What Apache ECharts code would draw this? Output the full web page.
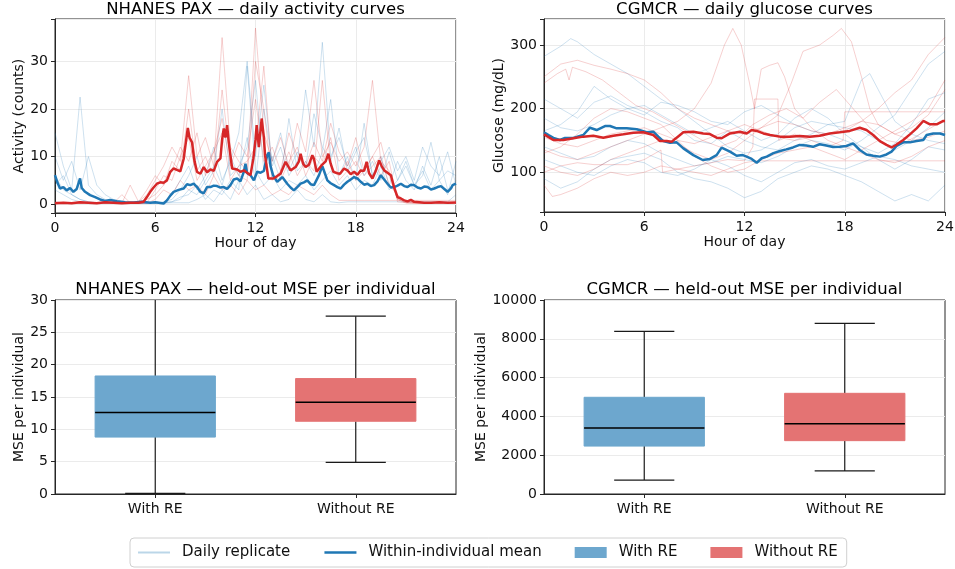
<!DOCTYPE html>
<html><head><meta charset="utf-8">
<script src="https://cdn.jsdelivr.net/npm/echarts@6/dist/echarts.min.js"></script>
<style>html,body{margin:0;padding:0;background:#fff}#c{width:955px;height:569px}</style>
</head><body><div id="c"></div><script>
// ---------- DATA ----------
const halfHours = [0,0.5,1,1.5,2,2.5,3,3.5,4,4.5,5,5.5,6,6.5,7,7.5,8,8.5,9,9.5,10,10.5,11,11.5,12,12.5,13,13.5,14,14.5,15,15.5,16,16.5,17,17.5,18,18.5,19,19.5,20,20.5,21,21.5,22,22.5,23,23.5,24];

// NHANES PAX daily replicates (individual A = blue, individual B = red), sampled every 0.5 h
const nhanesBlueRep1 = [15,8,3,22.5,4,2,1,0.5,0.3,0.2,0.3,0.2,0.5,0.3,2,5,8,3,6,12,5,9,15,30,10,25,8,12,6,9,24,12,34,10,14,8,12,6,9,5,11,5,8,4,6,13,5,7,6];
const nhanesBlueRep2 = [10,5,9,3,10,4,2,1,0.5,0.3,0.2,0.3,0.2,0.5,1,3,6,10,4,7,20,6,8,12,26,7,10,5,18,7,9,6,11,22,6,10,5,17,6,10,4,9,5,3,8,4,10,3,5];
const nhanesBlueRep3 = [3,2,1,0.5,0.3,0.2,0.3,0.2,0.3,0.2,0.3,0.2,0.3,0.2,0.3,0.3,0.3,1,2,0.5,3,1,5,2,4,1,2,0.5,1,3,1,0.5,2,0.5,0.3,0.5,0.5,0.5,0.5,0.5,0.5,0.5,0.5,0.5,0.5,0.5,0.5,0.5,2];
const nhanesBlueRep4 = [4,6,2,1,0.5,0.3,0.3,0.3,0.3,0.3,0.3,0.3,0.3,0.3,0.5,1.5,2,4,1,3,2,5,3,29,7,4,6,3,5,4,6,3,5,7,4,6,3,5,4,8,3,5,9,4,7,3,5,2,9];
const nhanesBlueRep5 = [6,3,2,1,0.5,0.3,0.2,0.3,0.2,0.3,0.2,0.3,0.2,0.3,0.5,1,3,2,5,8,4,10,6,14,5,20,9,15,7,11,8,19,12,9,16,7,11,14,6,9,12,7,10,5,12,8,6,11,4];
const nhanesRedRep1 = [0.5,0.3,0.2,0.5,0.3,0.2,0.5,0.3,0.2,4,0.5,2,5,8,12,9,27,10,14,8,35,12,9,7,37,15,9,14,8,17,11,26,10,13,9,11,8,12,26,9,7,1,0.3,0.2,0.3,0.3,0.3,0.3,0.3];
const nhanesRedRep2 = [0.2,0.2,0.3,0.2,0.2,0.3,0.2,0.2,0.3,0.2,0.5,3,6,4,9,7,20,7,10,6,24,9,6,5,30,20,5,7,11,6,9,7,26,8,6,9,5,7,10,6,9,0.5,0.3,0.3,0.2,0.3,0.2,0.3,0.2];
const nhanesRedRep3 = [0.3,0.2,0.3,0.3,0.2,0.3,0.3,0.2,0.3,0.3,0.2,0.3,3,6,5,10,14,5,8,11,15,5,8,9,12,29,6,5,9,12,6,10,8,14,5,7,9,6,8,10,4,2,0.5,0.3,0.2,0.3,0.3,0.2,0.3];
const nhanesRedRep4 = [0.2,0.2,0.2,0.2,0.2,0.2,0.2,0.2,0.2,0.2,0.2,0.2,1,3,2,5,3,4,2,6,3,4,2,5,3,4,2,3,2,4,3,2,4,2,0.8,0.8,0.8,0.8,0.8,0.8,0.8,0.8,0.8,0.8,0.8,0.8,0.8,0.8,0.8];
const nhanesRedRep5 = [0.3,0.2,0.3,0.2,0.3,0.2,0.3,0.2,2,0.3,0.5,1,2,4,7,12,9,15,6,11,18,8,13,10,22,9,12,7,15,10,8,13,9,17,11,8,14,7,10,13,6,1,0.3,0.2,0.3,0.2,0.3,0.2,0.3];

// NHANES within-individual means [hour, counts]
const nhanesBlueMean = [[0,6.1],[0.15,4.5],[0.3,3.3],[0.5,3.6],[0.7,2.9],[0.9,3.4],[1.1,2.6],[1.3,3.2],[1.5,5.4],[1.6,3.4],[1.8,2.6],[2.1,1.9],[2.4,1.5],[2.7,1.0],[3.0,0.7],[3.3,0.9],[3.7,0.6],[4.2,0.4],[4.7,0.35],[5.2,0.5],[5.7,0.3],[6.0,0.4],[6.5,0.15],[6.7,0.8],[6.9,1.8],[7.1,2.6],[7.4,3.0],[7.7,3.3],[7.9,4.2],[8.1,4.0],[8.3,4.3],[8.5,3.6],[8.7,2.6],[8.9,2.3],[9.1,3.6],[9.3,3.6],[9.5,3.9],[9.7,3.8],[9.9,3.5],[10.1,3.6],[10.3,3.2],[10.5,4.0],[10.7,5.2],[10.9,5.4],[11.1,4.8],[11.3,6.8],[11.4,8.5],[11.5,6.5],[11.7,6.1],[11.9,5.0],[12.1,6.8],[12.3,6.6],[12.5,7.0],[12.7,10.3],[12.8,10.9],[12.9,8.0],[13.05,6.1],[13.3,4.7],[13.6,5.7],[13.9,4.3],[14.1,3.5],[14.3,2.9],[14.5,3.6],[14.7,4.3],[14.9,4.6],[15.1,5.0],[15.3,4.2],[15.5,4.0],[15.8,6.1],[16.0,8.0],[16.15,6.5],[16.3,5.0],[16.5,4.4],[16.7,4.0],[16.9,3.6],[17.1,3.3],[17.3,4.1],[17.5,4.7],[17.7,5.2],[17.9,5.7],[18.1,5.4],[18.3,4.7],[18.5,4.1],[18.7,4.3],[18.9,3.8],[19.1,4.0],[19.3,4.8],[19.5,6.1],[19.7,5.2],[19.9,4.3],[20.1,3.5],[20.3,3.6],[20.5,3.9],[20.7,4.3],[20.9,3.8],[21.1,3.6],[21.3,4.1],[21.5,4.0],[21.7,3.5],[21.9,3.3],[22.1,3.7],[22.3,3.6],[22.5,3.1],[22.7,3.3],[22.9,3.6],[23.1,3.8],[23.3,3.2],[23.5,2.6],[23.7,3.3],[23.8,4.0],[24,4.3]];
const nhanesRedMean = [[0,0.2],[0.5,0.3],[1,0.2],[1.5,0.4],[2,0.3],[2.5,0.2],[3,0.4],[3.5,0.3],[4,0.2],[4.5,0.3],[5,0.3],[5.3,0.5],[5.5,1.5],[5.7,2.6],[5.9,3.5],[6.1,4.3],[6.3,4.6],[6.5,4.5],[6.7,5.0],[6.9,6.8],[7.1,7.5],[7.3,7.2],[7.5,6.9],[7.7,9.5],[7.85,13.5],[7.95,16.0],[8.05,14.0],[8.2,13.0],[8.35,9.0],[8.5,6.8],[8.7,6.4],[8.9,7.8],[9.1,6.7],[9.3,7.3],[9.5,7.0],[9.7,8.9],[9.9,9.6],[10.0,13.5],[10.1,15.9],[10.2,14.0],[10.3,16.6],[10.4,13.0],[10.6,7.5],[10.9,7.3],[11.1,6.8],[11.3,7.1],[11.5,6.6],[11.7,6.1],[11.87,9.6],[12.0,13.5],[12.07,16.6],[12.2,12.0],[12.37,18.0],[12.5,14.0],[12.57,10.3],[12.77,5.4],[13.07,5.4],[13.3,5.9],[13.5,6.4],[13.8,8.9],[14.1,7.1],[14.4,7.8],[14.6,9.0],[14.7,10.6],[14.85,8.5],[15.0,7.8],[15.2,8.3],[15.4,10.3],[15.5,9.5],[15.66,6.8],[15.96,8.2],[16.2,9.0],[16.36,10.6],[16.5,8.5],[16.66,6.8],[16.9,6.5],[17.06,6.4],[17.3,7.5],[17.5,7.1],[17.7,6.3],[17.9,6.8],[18.1,6.2],[18.3,7.1],[18.5,7.0],[18.65,8.9],[18.8,6.5],[19.0,5.4],[19.2,7.0],[19.4,9.2],[19.55,8.0],[19.7,7.1],[19.9,6.6],[20.1,6.1],[20.3,3.5],[20.5,1.5],[20.7,1.2],[20.9,0.8],[21.1,0.6],[21.3,0.9],[21.5,0.5],[22.1,0.3],[22.5,0.3],[23,0.4],[23.5,0.3],[24,0.35]];

// CGMCR daily replicates [hour, mg/dL]
const cgmBlueRep1 = [[0,282],[1,298],[1.6,310],[2,305],[3,285],[4,270],[5,255],[6,235],[7,215],[8,200],[9,180],[10,160],[11,140],[12,130],[13,135],[14,150],[15,170],[16,180],[17,175],[18,170],[19,165],[20,150],[21,135],[22,150],[23,170],[24,195]];
const cgmBlueRep2 = [[0,140],[1,130],[2,120],[3,125],[4,140],[5,150],[6,145],[7,130],[8,120],[9,110],[10,115],[11,125],[12,120],[13,115],[14,125],[15,140],[16,150],[17,145],[18,135],[19,150],[20,170],[21,190],[22,230],[23,270],[24,290]];
const cgmBlueRep3 = [[0,215],[1,200],[2,185],[3,210],[4,220],[5,205],[6,195],[7,180],[8,170],[9,150],[10,145],[11,165],[12,150],[13,140],[14,135],[15,150],[16,160],[17,175],[18,180],[19,245],[19.5,255],[20,230],[21,180],[22,160],[23,150],[24,145]];
const cgmBlueRep4 = [[0,90],[1,75],[2,85],[3,105],[4,120],[5,125],[6,130],[7,120],[8,100],[9,90],[10,85],[11,75],[12,60],[13,70],[14,90],[15,100],[16,110],[17,105],[18,95],[19,85],[20,70],[21,55],[22,65],[23,55],[24,80]];
const cgmBlueRep5 = [[0,185],[1,170],[2,165],[3,175],[4,190],[5,200],[6,205],[7,190],[8,175],[9,160],[10,170],[11,180],[12,165],[13,150],[14,160],[15,185],[16,200],[17,185],[18,160],[19,140],[20,120],[21,105],[22,120],[23,140],[24,135]];
const cgmBlueRep6 = [[0,120],[1,110],[2,100],[3,95],[4,110],[5,120],[6,115],[7,100],[8,95],[9,105],[10,120],[11,110],[12,95],[13,85],[14,100],[15,115],[16,120],[17,110],[18,105],[19,115],[20,125],[21,120],[22,110],[23,105],[24,100]];
const cgmBlueRep7 = [[0,165],[1,175],[2,195],[3,235],[4,215],[5,200],[6,190],[7,210],[8,205],[9,195],[10,180],[11,175],[12,195],[13,205],[14,190],[15,175],[16,165],[17,160],[18,150],[19,140],[20,130],[21,145],[22,175],[23,215],[24,225]];
const cgmRedRep1 = [[0,250],[1,270],[2,276],[3,268],[4,262],[5,255],[6,245],[7,225],[8,200],[9,185],[10,175],[11,165],[12,160],[13,170],[14,180],[15,175],[16,165],[17,160],[18,170],[19,180],[20,175],[21,160],[22,170],[23,190],[24,230]];
const cgmRedRep2 = [[0,135],[1,125],[2,120],[3,130],[4,140],[5,150],[6,160],[7,170],[8,180],[9,200],[10,240],[10.8,300],[11.3,326],[11.8,300],[12.3,240],[12.6,200],[13,262],[13.5,268],[14,272],[14.4,250],[15,200],[16,170],[17,150],[18,140],[19,130],[20,120],[21,115],[22,125],[23,140],[24,150]];
const cgmRedRep3 = [[0,110],[1,100],[2,95],[3,105],[4,120],[5,130],[6,140],[7,150],[8,145],[9,130],[10,120],[11,130],[12,150],[13,170],[14,190],[14.8,240],[15.5,290],[16.5,300],[17.3,315],[17.8,326],[18.4,305],[19,250],[19.5,200],[20,175],[21,160],[22,150],[23,155],[24,165]];
const cgmRedRep4 = [[0,155],[1,145],[2,140],[3,150],[4,160],[5,165],[6,170],[7,160],[8,150],[9,145],[10,155],[11,165],[12,175],[13,165],[14,155],[15,150],[16,155],[17,160],[18,165],[19,180],[20,200],[21,225],[22,245],[23,285],[24,312]];
const cgmRedRep5 = [[0,100],[1,110],[2,115],[3,112],[4,112],[5,112],[6,120],[7,135],[7.1,100],[8,105],[9,110],[10,115],[11,120],[12,118],[12.5,140],[12.6,215],[14,215],[14.05,150],[15,160],[16,150],[17,140],[17.9,150],[18,195],[24,195]];
const cgmRedRep6 = [[0,80],[0.5,62],[1,65],[2,75],[3,90],[4,100],[5,95],[6,100],[7,110],[8,105],[9,100],[10,95],[11,105],[12,115],[12.7,118],[24,118]];
const cgmRedRep7 = [[0,130],[1,140],[2,160],[3,185],[4,200],[5,195],[6,185],[7,175],[8,150],[9,125],[10,110],[11,100],[12,105],[13,120],[14,130],[15,135],[16,140],[17,130],[18,120],[19,135],[20,150],[21,165],[22,180],[23,200],[24,245]];
const cgmRedRep8 = [[0,240],[0.8,255],[1.3,262],[1.5,245],[1.7,265],[2.5,258],[3.5,245],[4.5,225],[5.5,205],[6.5,195],[7.5,180],[8.5,165],[9.5,150],[10.5,140],[11.5,150],[12.5,175],[13.5,190],[14.5,200],[15.5,185],[16.5,210],[17.5,230],[18.5,200],[19.5,170],[20.5,150],[21.5,145],[22.5,160],[23.5,175],[24,180]];

// CGMCR within-individual means
const cgmBlueMean = [[0,162.8],[0.3,158],[0.56,154],[0.96,150.7],[1.26,154],[1.76,154],[2.35,158.6],[2.75,170],[3.15,166.4],[3.65,172.7],[3.95,172.7],[4.35,169],[4.95,169],[5.55,167.5],[6.14,162.8],[6.54,163.8],[6.84,156],[7.14,149],[7.54,146.5],[7.94,147],[8.34,137.6],[8.94,127],[9.5,119.3],[9.93,121],[10.33,127],[10.63,138.7],[11.13,132.4],[11.53,126],[11.9,127],[12.13,124.6],[12.43,121],[12.73,115],[13.03,122],[13.33,124.6],[13.73,130],[14.13,133.4],[14.5,136],[14.9,139],[15.3,143],[15.7,142],[16.1,140],[16.5,144],[16.9,142],[17.3,139.7],[17.7,140],[18.1,141.3],[18.5,145.5],[18.9,135],[19.3,128],[19.7,126],[20.1,124.6],[20.5,128],[20.8,132.4],[21.1,141.3],[21.5,147],[21.9,147],[22.3,149],[22.7,150.7],[22.9,158.6],[23.3,161],[23.7,161],[24,158.6]];
const cgmRedMean = [[0,159.6],[0.56,150.7],[1.16,150.7],[1.76,153.4],[2.35,156],[2.95,157.5],[3.55,154.4],[4.15,157.5],[4.75,159.6],[5.35,162],[5.94,162.8],[6.54,158.6],[6.94,149],[7.34,149],[7.64,148],[7.94,154.4],[8.34,162.8],[8.94,163.8],[9.53,161],[9.93,160],[10.33,154.4],[10.63,153.4],[11.13,161],[11.73,163.8],[12.13,161],[12.43,166.4],[12.73,165],[13.13,161],[13.53,158.6],[14.13,156],[14.7,156],[15.3,157],[15.9,156],[16.5,157.5],[17.1,161],[17.7,162.8],[18.3,165],[18.9,170],[19.3,166.4],[19.7,158.6],[20.1,149],[20.5,143],[20.8,139],[21.1,143.7],[21.5,150.7],[21.9,159.6],[22.3,169],[22.7,180.6],[23.1,175.4],[23.5,175.4],[23.9,180.6],[24,180.6]];

// Box plots: [lower whisker, Q1, median, Q3, upper whisker]
const boxCategories = ['With RE', 'Without RE'];
const nhanesWithRE = [0.1, 8.8, 12.6, 18.25, 34];
const nhanesWithoutRE = [4.9, 11.25, 14.2, 17.85, 27.5];
const cgmWithRE = [720, 2470, 3400, 4985, 8385];
const cgmWithoutRE = [1190, 2750, 3625, 5190, 8800];

const hourTicks = [0, 6, 12, 18, 24];

// ---------- CHART ----------
const FONT = 'DejaVu Sans';
const BLUE = '#1f77b4', RED = '#d62728';
const BLUE_FAINT = 'rgba(31,119,180,0.22)', RED_FAINT = 'rgba(214,39,40,0.22)';
const BOX_BLUE = '#6da7ce', BOX_RED = '#e47373';
const AX = '#262626', TXT = '#111';

function valAxis(gridIndex, extra) {
  return Object.assign({
    type: 'value', gridIndex,
    axisLine: { show: true, onZero: false, lineStyle: { color: AX, width: 1 } },
    axisTick: { show: true, length: 4, lineStyle: { color: AX } },
    axisLabel: { color: TXT, fontFamily: FONT, fontSize: 14, margin: 7 },
    nameTextStyle: { color: TXT, fontFamily: FONT, fontSize: 14 },
    nameLocation: 'middle',
    splitLine: { show: true, lineStyle: { color: '#ebebeb', width: 1 } }
  }, extra);
}
function hourAxis(gridIndex) {
  return valAxis(gridIndex, {
    min: hourTicks[0], max: hourTicks[hourTicks.length - 1], interval: hourTicks[1] - hourTicks[0],
    name: 'Hour of day', nameGap: 23,
    axisLabel: { color: TXT, fontFamily: FONT, fontSize: 14, margin: 8 }
  });
}
function catAxis(gridIndex) {
  return {
    type: 'category', gridIndex, data: boxCategories, boundaryGap: true,
    axisLine: { show: true, onZero: false, lineStyle: { color: AX, width: 1 } },
    axisTick: { show: true, alignWithLabel: true, length: 4, lineStyle: { color: AX } },
    axisLabel: { color: TXT, fontFamily: FONT, fontSize: 14, margin: 8 },
    splitLine: { show: false }
  };
}
function multipleFmt(step) {
  return v => (Math.abs(v / step - Math.round(v / step)) < 1e-6 ? String(Math.round(v)) : '');
}

function repSeries(name, data, x, y, color) {
  return { type: 'line', name, xAxisIndex: x, yAxisIndex: y, data, symbol: 'none', showSymbol: false,
    lineStyle: { color, width: 1 }, itemStyle: { color }, silent: true, z: 2 };
}
function meanSeries(name, data, x, y, color) {
  return { type: 'line', name, xAxisIndex: x, yAxisIndex: y, data, symbol: 'none', showSymbol: false,
    lineStyle: { color, width: 2.5 }, itemStyle: { color }, z: 3 };
}
function zipHalf(arr) { return halfHours.map((h, i) => [h, arr[i]]); }

function renderBox(params, api) {
  const c = api.value(0);
  const lo = api.value(1), q1 = api.value(2), med = api.value(3), q3 = api.value(4), hi = api.value(5);
  const band = api.size([1, 0])[0];
  const half = band * 0.3, capHalf = band * 0.15;
  const cs = params.coordSys;
  const top = cs.y, bot = cs.y + cs.height;
  const P = v => api.coord([c, v]);
  const x = P(med)[0];
  const yLo = P(lo)[1], yQ1 = P(q1)[1], yMed = P(med)[1], yQ3 = P(q3)[1], yHi = P(hi)[1];
  const cl = y => Math.max(top, Math.min(bot, y));
  const color = api.visual('color');
  const ls = { stroke: '#1a1a1a', lineWidth: 1.2 };
  const ch = [
    { type: 'line', shape: { x1: x, y1: yQ3, x2: x, y2: cl(yHi) }, style: ls },
    { type: 'line', shape: { x1: x, y1: yQ1, x2: x, y2: cl(yLo) }, style: ls }
  ];
  if (yHi >= top) ch.push({ type: 'line', shape: { x1: x - capHalf, y1: yHi, x2: x + capHalf, y2: yHi }, style: ls });
  if (yLo <= bot) ch.push({ type: 'line', shape: { x1: x - capHalf, y1: yLo, x2: x + capHalf, y2: yLo }, style: ls });
  ch.push({ type: 'rect', shape: { x: x - half, y: yQ3, width: 2 * half, height: yQ1 - yQ3 }, style: { fill: color, stroke: color, lineWidth: 1 } });
  ch.push({ type: 'line', shape: { x1: x - half, y1: yMed, x2: x + half, y2: yMed }, style: { stroke: '#000', lineWidth: 1.5 } });
  return { type: 'group', children: ch };
}
function boxSeries(name, vals, catIndex, x, y, color) {
  return { type: 'custom', name, xAxisIndex: x, yAxisIndex: y, renderItem: renderBox,
    itemStyle: { color }, encode: { x: 0, y: [1, 2, 3, 4, 5] },
    data: [[catIndex].concat(vals)], z: 3 };
}

const series = [];
[nhanesBlueRep1, nhanesBlueRep2, nhanesBlueRep3, nhanesBlueRep4, nhanesBlueRep5].forEach(r => series.push(repSeries('Daily replicate', zipHalf(r), 0, 0, BLUE_FAINT)));
[nhanesRedRep1, nhanesRedRep2, nhanesRedRep3, nhanesRedRep4, nhanesRedRep5].forEach(r => series.push(repSeries('Daily replicate', zipHalf(r), 0, 0, RED_FAINT)));
series.push(meanSeries('Within-individual mean', nhanesBlueMean, 0, 0, BLUE));
series.push(meanSeries('Within-individual mean', nhanesRedMean, 0, 0, RED));
[cgmBlueRep1, cgmBlueRep2, cgmBlueRep3, cgmBlueRep4, cgmBlueRep5, cgmBlueRep6, cgmBlueRep7].forEach(r => series.push(repSeries('Daily replicate', r, 1, 1, BLUE_FAINT)));
[cgmRedRep1, cgmRedRep2, cgmRedRep3, cgmRedRep4, cgmRedRep5, cgmRedRep6, cgmRedRep7, cgmRedRep8].forEach(r => series.push(repSeries('Daily replicate', r, 1, 1, RED_FAINT)));
series.push(meanSeries('Within-individual mean', cgmBlueMean, 1, 1, BLUE));
series.push(meanSeries('Within-individual mean', cgmRedMean, 1, 1, RED));
series.push(boxSeries('With RE', nhanesWithRE, 0, 2, 2, BOX_BLUE));
series.push(boxSeries('Without RE', nhanesWithoutRE, 1, 2, 2, BOX_RED));
series.push(boxSeries('With RE', cgmWithRE, 0, 3, 3, BOX_BLUE));
series.push(boxSeries('Without RE', cgmWithoutRE, 1, 3, 3, BOX_RED));

const titleStyle = { color: '#000', fontFamily: FONT, fontSize: 16.5, fontWeight: 'normal' };
const gridBase = { show: true, borderColor: AX, borderWidth: 1, backgroundColor: 'transparent', containLabel: false, outerBoundsMode: 'none' };
const noSymbol = { opacity: 0, borderWidth: 0 };

const option = {
  animation: false,
  backgroundColor: '#fff',
  title: [
    { text: 'NHANES PAX — daily activity curves', left: 255.5, top: 1, textAlign: 'center', padding: 0, textStyle: titleStyle },
    { text: 'CGMCR — daily glucose curves', left: 744.5, top: 1, textAlign: 'center', padding: 0, textStyle: titleStyle },
    { text: 'NHANES PAX — held-out MSE per individual', left: 255.5, top: 281, textAlign: 'center', padding: 0, textStyle: titleStyle },
    { text: 'CGMCR — held-out MSE per individual', left: 744.5, top: 281, textAlign: 'center', padding: 0, textStyle: titleStyle }
  ],
  grid: [
    Object.assign({ left: 55, top: 19, width: 401, height: 194 }, gridBase),
    Object.assign({ left: 544, top: 19, width: 401, height: 193 }, gridBase),
    Object.assign({ left: 55, top: 300, width: 401, height: 194 }, gridBase),
    Object.assign({ left: 544, top: 300, width: 401, height: 194 }, gridBase)
  ],
  xAxis: [hourAxis(0), hourAxis(1), catAxis(2), catAxis(3)],
  yAxis: [
    valAxis(0, { min: -1.85, max: 38.9, minInterval: 10, maxInterval: 10, name: 'Activity (counts)', nameGap: 28,
      axisLabel: { color: TXT, fontFamily: FONT, fontSize: 14, margin: 7, formatter: multipleFmt(10) } }),
    valAxis(1, { min: 37.6, max: 340.8, minInterval: 100, maxInterval: 100, name: 'Glucose (mg/dL)', nameGap: 38,
      axisLabel: { color: TXT, fontFamily: FONT, fontSize: 14, margin: 7, formatter: multipleFmt(100) } }),
    valAxis(2, { min: 0, max: 30, interval: 5, name: 'MSE per individual', nameGap: 28,
      axisLabel: { color: TXT, fontFamily: FONT, fontSize: 14, margin: 7, formatter: v => String(v) } }),
    valAxis(3, { min: 0, max: 10000, interval: 2000, name: 'MSE per individual', nameGap: 56,
      axisLabel: { color: TXT, fontFamily: FONT, fontSize: 14, margin: 7, formatter: v => String(v) } })
  ],
  legend: {
    left: 130, top: 538,
    data: [
      { name: 'Daily replicate', itemStyle: noSymbol, lineStyle: { color: 'rgba(31,119,180,0.3)', width: 2 } },
      { name: 'Within-individual mean', itemStyle: noSymbol, lineStyle: { color: BLUE, width: 2.5 } },
      { name: 'With RE', icon: 'rect' },
      { name: 'Without RE', icon: 'rect' }
    ],
    itemWidth: 32, itemHeight: 11, itemGap: 33,
    padding: [7, 9, 7, 7], borderColor: '#d0d0d0', borderWidth: 1, borderRadius: 4,
    textStyle: { color: TXT, fontFamily: FONT, fontSize: 15, padding: [0, 0, 0, 7] }
  },
  series
};

const chart = echarts.init(document.getElementById('c'), null, { renderer: 'canvas' });
chart.setOption(option);
</script></body></html>
